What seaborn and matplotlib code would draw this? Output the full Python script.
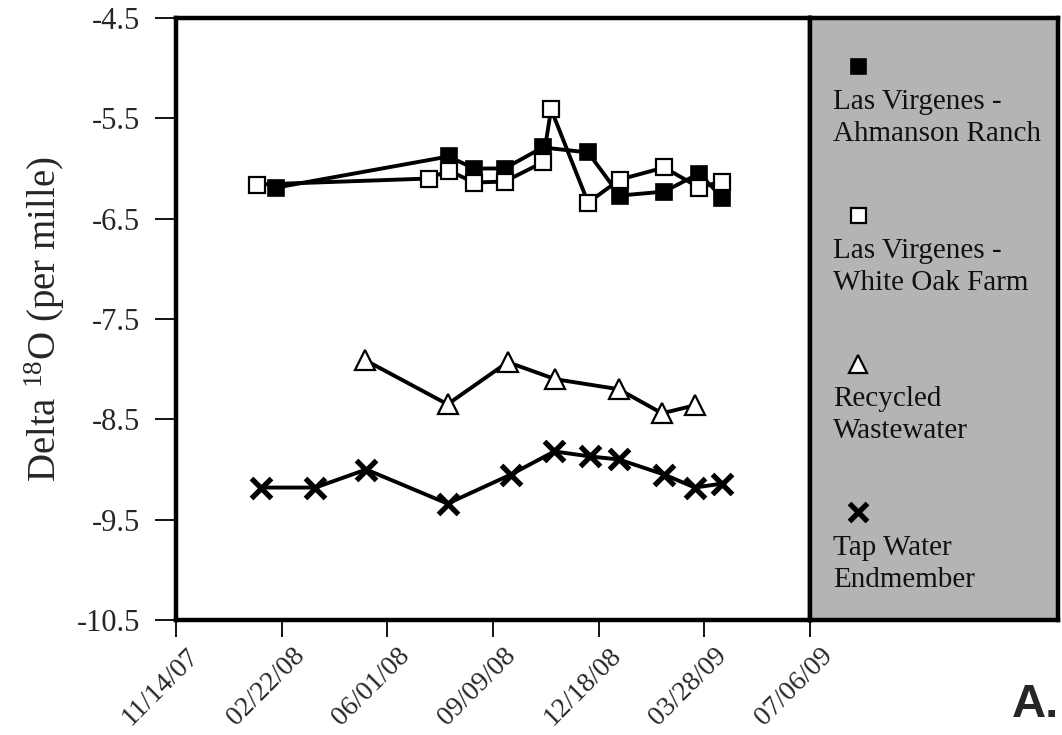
import numpy as np
import pandas as pd
import matplotlib
matplotlib.use("Agg")
import matplotlib.pyplot as plt
import matplotlib.dates as mdates
import matplotlib.transforms as mtransforms
import seaborn as sns

# series
ahmanson_dates = ['2008-02-17', '2008-07-29', '2008-08-22', '2008-09-20', '2008-10-26',
                  '2008-12-08', '2009-01-07', '2009-02-18', '2009-03-23', '2009-04-14']
ahmanson_vals = [-6.19, -5.88, -6.00, -6.00, -5.79, -5.84, -6.27, -6.23, -6.05, -6.29]

white_oak_dates = ['2008-01-30', '2008-07-10', '2008-07-29', '2008-08-22', '2008-09-20', '2008-10-26',
                   '2008-11-03', '2008-12-08', '2009-01-07', '2009-02-18', '2009-03-23', '2009-04-14']
white_oak_vals = [-6.16, -6.10, -6.02, -6.14, -6.13, -5.94, -5.41, -6.34, -6.11, -5.99, -6.19, -6.13]

recycled_dates = ['2008-05-11', '2008-07-28', '2008-09-23', '2008-11-07', '2009-01-06', '2009-02-16', '2009-03-19']
recycled_vals = [-7.91, -8.35, -7.93, -8.10, -8.20, -8.44, -8.36]

tap_dates = ['2008-02-02', '2008-03-25', '2008-05-12', '2008-07-28', '2008-09-26', '2008-11-06',
             '2008-12-10', '2009-01-06', '2009-02-18', '2009-03-19', '2009-04-14']
tap_vals = [-9.18, -9.18, -9.00, -9.34, -9.05, -8.82, -8.87, -8.90, -9.05, -9.18, -9.14]

series_labels = ['Las Virgenes -\nAhmanson Ranch', 'Las Virgenes -\nWhite Oak Farm',
                 'Recycled\nWastewater', 'Tap Water\nEndmember']

y_ticks = [-4.5, -5.5, -6.5, -7.5, -8.5, -9.5, -10.5]
x_start, x_end = '2007-11-14', '2009-07-06'

sns.set_theme(style="white")
plt.rcParams['font.family'] = ['Liberation Serif', 'DejaVu Serif']

fig = plt.figure(figsize=(10.62, 7.35), dpi=100)
ax = fig.add_axes([176 / 1062, 1 - 620 / 735, 634 / 1062, 602 / 735])
panel = fig.add_axes([810 / 1062, 1 - 620 / 735, 248 / 1062, 602 / 735])

styles = [
    dict(marker='s', markersize=12, markerfacecolor='black', markeredgecolor='black', markeredgewidth=1.2),
    dict(marker='s', markersize=12, markerfacecolor='white', markeredgecolor='black', markeredgewidth=1.6),
    dict(marker='^', markersize=14, markerfacecolor='white', markeredgecolor='black', markeredgewidth=1.6),
    dict(marker='x', markersize=15, markeredgecolor='black', markeredgewidth=3.8),
]

all_series = [(ahmanson_dates, ahmanson_vals), (white_oak_dates, white_oak_vals),
              (recycled_dates, recycled_vals), (tap_dates, tap_vals)]

for (d, v), st in zip(all_series, styles):
    df = pd.DataFrame({'date': pd.to_datetime(d), 'val': v})
    sns.lineplot(data=df, x='date', y='val', ax=ax, color='black', linewidth=2.8, **st)

ax.set_xlim(pd.Timestamp(x_start), pd.Timestamp(x_end))
ax.set_ylim(-10.5, -4.5)
ax.set_yticks(y_ticks)
ax.set_yticklabels([f"{t:.1f}" for t in y_ticks])
ticks = pd.date_range(x_start, x_end, freq='100D')
ax.set_xticks(ticks)
ax.xaxis.set_major_formatter(mdates.DateFormatter('%m/%d/%y'))

ax.tick_params(axis='y', left=True, direction='out', length=15, width=1.3, pad=11, labelsize=22, color='black')
ax.tick_params(axis='x', bottom=True, direction='out', length=12, width=1.3, pad=2, labelsize=20, color='black')
shift = mtransforms.ScaledTranslation(10 / 100, -4 / 100, fig.dpi_scale_trans)
for lab in ax.get_xticklabels():
    lab.set_rotation(45)
    lab.set_ha('right')
    lab.set_va('top')
    lab.set_rotation_mode('anchor')
    lab.set_transform(lab.get_transform() + shift)

ax.set_xlabel('')
ax.set_ylabel(r'Delta $\mathregular{^{18}}$O (per mille)', fontsize=28, labelpad=7)
ax.set_facecolor('white')
for sp in ax.spines.values():
    sp.set_visible(True)
    sp.set_linewidth(3.2)
    sp.set_color('black')

# side panel with the key
panel.set_facecolor('#b4b4b4')
panel.set_xlim(0, 1)
panel.set_ylim(0, 1)
panel.set_xticks([])
panel.set_yticks([])
for sp in panel.spines.values():
    sp.set_visible(True)
    sp.set_linewidth(3.2)
    sp.set_color('black')

for i, (lab, st) in enumerate(zip(series_labels, styles)):
    my = 0.92 - i * 0.247
    st2 = dict(st)
    st2['markersize'] = st['markersize'] * 0.9
    panel.plot([0.194], [my], linestyle='none', color='black', **st2)
    panel.text(0.093, my - 0.086, lab, fontsize=21, va='center', ha='left',
               linespacing=1.3, color='#111111')

fig.text(1012 / 1062, 1 - 717 / 735, 'A.', fontsize=34, fontweight='bold',
         family='Liberation Sans', ha='left', va='baseline')

fig.savefig('out.png', dpi=100)
